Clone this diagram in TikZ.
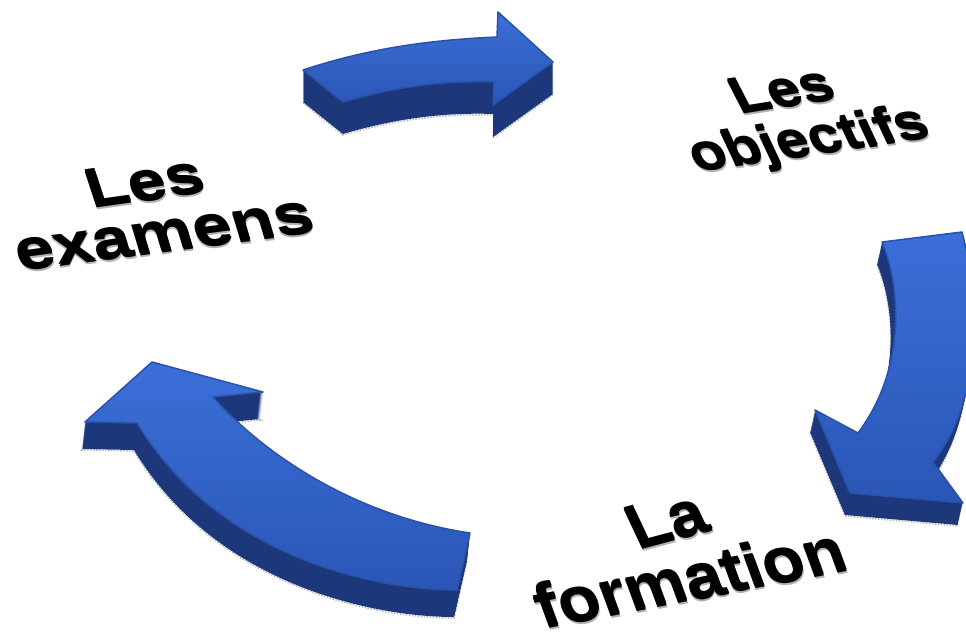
\documentclass[tikz,border=0pt]{standalone}
\usepackage{fontspec}
\newfontfamily\lblfont{Liberation Sans}
\usetikzlibrary{calc}
\definecolor{topA}{HTML}{3B6FD8}
\definecolor{topB}{HTML}{2A56B6}
\definecolor{sideC}{HTML}{1C387A}
\definecolor{edgeC}{HTML}{2A52AA}
\tikzset{
  arrowtop/.style={top color=topA, bottom color=topB, draw=edgeC, line width=1.5pt, line join=round},
  arrowside/.style={fill=sideC},
  arrowrim/.style={draw=gray!55, line width=1.6pt, dash pattern=on 1.5pt off 1.5pt},
  lbl/.style={inner sep=0pt, anchor=base west},
}
% name, position, rotation, slant, size, yscale, text
\newcommand\tdlabel[7]{%
  \node[lbl, text=gray!60, rotate=#3, xslant=#4, yscale=#6, font=\lblfont\bfseries\fontsize{#5}{#5}\selectfont] (#1-rim) at ($(#2)+(1,4)$) {#7};
  \node[lbl, text=black, rotate=#3, xslant=#4, yscale=#6, font=\lblfont\bfseries\fontsize{#5}{#5}\selectfont] (#1-d) at ($(#2)+(0.5,2)$) {#7};
  \node[lbl, text=black, rotate=#3, xslant=#4, yscale=#6, font=\lblfont\bfseries\fontsize{#5}{#5}\selectfont] (#1) at (#2) {#7};
}
\def\arrowT{(303,70) .. controls (370,48) and (430,40) .. (497,37) -- (498,12) -- (553,62) -- (493,105) -- (494,82) .. controls (440,80) and (390,88) .. (343,102) -- cycle}
\def\arrowR{(882,242) -- (962,232) .. controls (985,320) and (975,410) .. (933,462) -- (963,503) -- (850,493) -- (815,410) -- (858,433) .. controls (905,370) and (902,290) .. (882,242) -- cycle}
\def\arrowL{(152,362) -- (263,392) -- (213,397) .. controls (260,450) and (350,515) .. (470,533) -- (457,590) .. controls (380,590) and (220,560) .. (137,423) -- (85,422) -- cycle}
\begin{document}
\begin{tikzpicture}[x=1pt,y=-1pt]
\useasboundingbox[fill=white] (0,0) rectangle (966,638);
% top arrow
\draw[arrowrim, shift={(0,33)}] \arrowT;
\foreach \i in {1,...,32} {\fill[arrowside, shift={(0,\i)}] \arrowT;}
\draw[arrowtop] \arrowT;
% right arrow
\draw[arrowrim, shift={(-5,23)}] \arrowR;
\foreach \i in {1,...,22} {\fill[arrowside, shift={(-5*\i/22,\i)}] \arrowR;}
\draw[arrowtop] \arrowR;
% left arrow
\draw[arrowrim, shift={(-3,28)}] \arrowL;
\foreach \i in {1,...,27} {\fill[arrowside, shift={(-3*\i/27,\i)}] \arrowL;}
\draw[arrowtop] \arrowL;
% labels
\tdlabel{lesE}{92,207}{8}{-0.18}{68}{0.8}{Les}
\tdlabel{examens}{20,270}{7.5}{-0.16}{70}{0.8}{examens}
\tdlabel{lesO}{740,113}{9}{-0.33}{58}{0.88}{Les}
\tdlabel{objectifs}{697,171}{8.4}{-0.3}{58}{0.88}{objectifs}
\tdlabel{la}{638,549}{15}{-0.18}{66}{0.95}{La}
\tdlabel{formation}{543,628}{11}{-0.16}{68}{0.92}{formation}
\end{tikzpicture}
\end{document}
